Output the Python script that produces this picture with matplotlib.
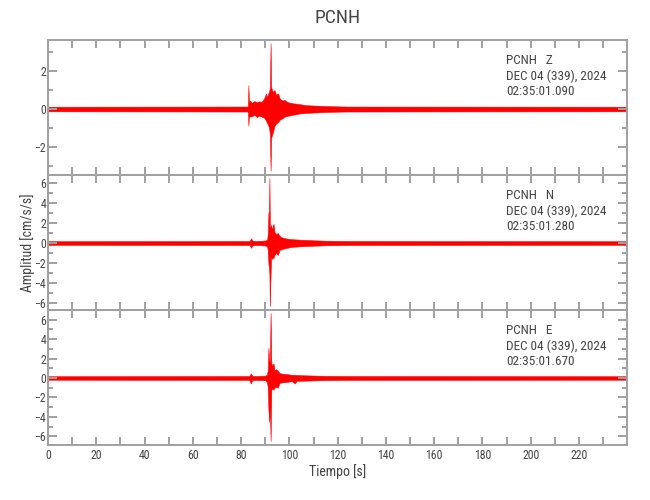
import matplotlib
matplotlib.use("Agg")
import matplotlib.pyplot as plt
from matplotlib import font_manager
from matplotlib.ticker import MultipleLocator

station = "PCNH"
channels = ["Z", "N", "E"]
date_label = "DEC 04 (339), 2024"
start_times = ["02:35:01.090", "02:35:01.280", "02:35:01.670"]

# envelope (upper / lower) of each trace
# time in s, amplitude in cm/s/s
z_t = [0, 82.8, 83.0, 83.2, 83.6, 84.5, 85.5, 86.5, 87.5, 88.5, 89.5, 90.3,
       90.6, 91.0, 91.5, 91.9, 92.2, 92.4, 92.7, 93.2, 93.8, 94.5, 95.3, 96.0,
       97.0, 98.0, 99.5, 101.5, 104.0, 107.0, 111.0, 116.0, 124.0, 240]
z_up = [0.12, 0.13, 1.26, 0.40, 0.45, 0.33, 0.42, 0.35, 0.40, 0.38, 0.55, 0.82,
        0.60, 0.75, 0.90, 1.10, 3.46, 1.20, 1.03, 0.90, 1.00, 0.75, 0.82, 0.55,
        0.45, 0.47, 0.35, 0.30, 0.26, 0.20, 0.18, 0.15, 0.13, 0.12]
z_lo = [-0.12, -0.13, -0.88, -0.35, -0.40, -0.38, -0.30, -0.42, -0.35, -0.40, -0.45, -0.60,
        -0.70, -0.80, -0.95, -1.30, -3.25, -1.54, -1.40, -1.20, -0.90, -0.75, -0.70, -0.55,
        -0.50, -0.40, -0.35, -0.30, -0.24, -0.20, -0.18, -0.15, -0.13, -0.12]

n_t = [0, 83.5, 84.1, 84.7, 86.0, 88.0, 90.0, 90.8, 91.05, 91.3,
       91.5, 91.7, 91.9, 92.1, 92.4, 92.8, 93.1, 93.4, 93.8, 94.5,
       95.2, 95.9, 97.0, 98.7, 101.0, 105.6, 110.0, 115.0, 125.0, 240]
n_up = [0.18, 0.20, 0.47, 0.22, 0.20, 0.22, 0.25, 0.35, 1.00, 3.10,
        1.50, 6.50, 1.80, 1.60, 1.80, 1.20, 1.80, 1.90, 1.10, 0.90,
        1.00, 0.70, 0.55, 0.45, 0.38, 0.32, 0.27, 0.23, 0.20, 0.18]
n_lo = [-0.18, -0.20, -0.47, -0.22, -0.20, -0.22, -0.25, -0.35, -0.80, -2.00,
        -2.50, -3.00, -6.30, -4.00, -1.40, -1.60, -1.40, -1.50, -1.20, -1.00,
        -1.20, -0.70, -0.60, -0.50, -0.38, -0.32, -0.27, -0.23, -0.20, -0.18]

e_t = [0, 83.4, 84.0, 84.6, 86.0, 88.0, 90.0, 90.7, 91.05, 91.3,
       91.6, 91.9, 92.2, 92.5, 92.9, 93.4, 93.8, 94.5, 95.2, 95.9,
       97.0, 98.7, 101.0, 102.2, 103.0, 105.6, 110.0, 115.0, 125.0, 240]
e_up = [0.18, 0.20, 0.48, 0.22, 0.20, 0.22, 0.24, 0.35, 0.80, 3.10,
        1.90, 1.60, 6.70, 1.50, 1.30, 1.50, 0.80, 0.90, 0.75, 0.50,
        0.45, 0.40, 0.33, 0.33, 0.30, 0.28, 0.25, 0.22, 0.20, 0.18]
e_lo = [-0.18, -0.20, -0.55, -0.22, -0.20, -0.22, -0.24, -0.40, -1.00, -3.30,
        -4.50, -3.00, -6.50, -1.20, -1.10, -1.20, -1.00, -0.90, -1.00, -0.50,
        -0.45, -0.40, -0.33, -0.55, -0.30, -0.28, -0.25, -0.22, -0.20, -0.18]

traces = [(z_t, z_up, z_lo), (n_t, n_up, n_lo), (e_t, e_up, e_lo)]
ylims = [(-3.47, 3.63), (-6.7, 6.8), (-6.9, 7.0)]
ymajor = [2, 2, 2]


# pick a narrow font if one is around
def pick_font(names):
    have = set(f.name for f in font_manager.fontManager.ttflist)
    for n in names:
        if n in have:
            return n
    return "DejaVu Sans"


font = pick_font(["Liberation Sans Narrow", "Roboto Condensed", "Liberation Sans", "Roboto"])
plt.rcParams["font.family"] = [font, "DejaVu Sans"]

frame_col = "#a0a0a0"
text_col = "#444444"

fig, axes = plt.subplots(3, 1, sharex=True, figsize=(6.5, 5), dpi=100)
fig.subplots_adjust(left=0.074, right=0.965, top=0.92, bottom=0.11, hspace=0)

for i, ax in enumerate(axes):
    t, up, lo = traces[i]
    ax.fill_between(t, lo, up, color="red", edgecolor="red", linewidth=0.4)
    ax.set_xlim(0, 239.99)
    ax.set_ylim(*ylims[i])
    ax.xaxis.set_major_locator(MultipleLocator(20))
    ax.xaxis.set_minor_locator(MultipleLocator(10))
    ax.yaxis.set_major_locator(MultipleLocator(ymajor[i]))
    ax.yaxis.set_minor_locator(MultipleLocator(1))
    ax.tick_params(which="both", direction="in", top=True, right=True,
                   color=frame_col, width=1.4, labelsize=8.5, labelcolor=text_col)
    ax.tick_params(axis="x", which="both", length=5.5, pad=3)
    ax.tick_params(axis="y", which="major", length=6.5, pad=1.5)
    ax.tick_params(axis="y", which="minor", length=3.5)
    if i < 2:
        ax.tick_params(axis="x", labelbottom=False)
    for s in ax.spines.values():
        s.set_color(frame_col)
        s.set_linewidth(1.4)
    ax.text(0.791, 0.845, station + "   " + channels[i], transform=ax.transAxes,
            fontsize=9.5, color=text_col, va="center", ha="left")
    ax.text(0.791, 0.733, date_label, transform=ax.transAxes,
            fontsize=9.5, color=text_col, va="center", ha="left")
    ax.text(0.791, 0.622, start_times[i], transform=ax.transAxes,
            fontsize=9.5, color=text_col, va="center", ha="left")

fig.text(0.519, 0.964, station, ha="center", va="center", fontsize=14, color=text_col)
fig.text(0.519, 0.056, "Tiempo [s]", ha="center", va="center", fontsize=10, color=text_col)
fig.text(0.043, 0.514, "Amplitud [cm/s/s]", ha="center", va="center", rotation=90,
         fontsize=10, color=text_col)

fig.savefig("out.png", dpi=100)
